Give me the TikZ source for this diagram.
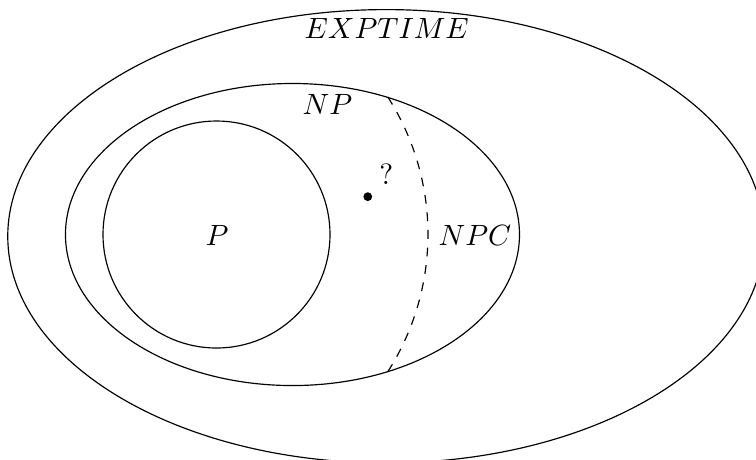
\documentclass[tikz,border=0pt]{standalone}
\begin{document}
\begin{tikzpicture}
      \tikzset{cls/.style={inner sep=1pt}}
      \clip (0,0) rectangle (9.065,-5.504);
      \coordinate (cexp) at (4.628,-2.833);
      \coordinate (cnp) at (3.507,-2.812);
      \coordinate (cp) at (2.596,-2.812);
      \coordinate (cut) at (4.650,-1.163);
      \draw (cexp) ellipse [x radius=4.535cm, y radius=2.718cm];
      \draw (cnp) ellipse [x radius=2.722cm, y radius=1.811cm];
      \draw (cp) circle [radius=1.361cm];
      \draw[dashed] (cut) arc [start angle=32.6, end angle=-32.6, radius=3.057cm];
      \node[cls] (exptime) at (4.637,-0.336) {$EXPTIME$};
      \node[cls] (np) at (3.927,-1.247) {$NP$};
      \node[cls] (npc) at (5.695,-2.818) {$NPC$};
      \node[cls] (p) at (2.602,-2.818) {$P$};
      \fill (4.410,-2.358) circle [radius=1.5pt];
      \node[cls] (q) at (4.632,-2.086) {?};
    \end{tikzpicture}
\end{document}
